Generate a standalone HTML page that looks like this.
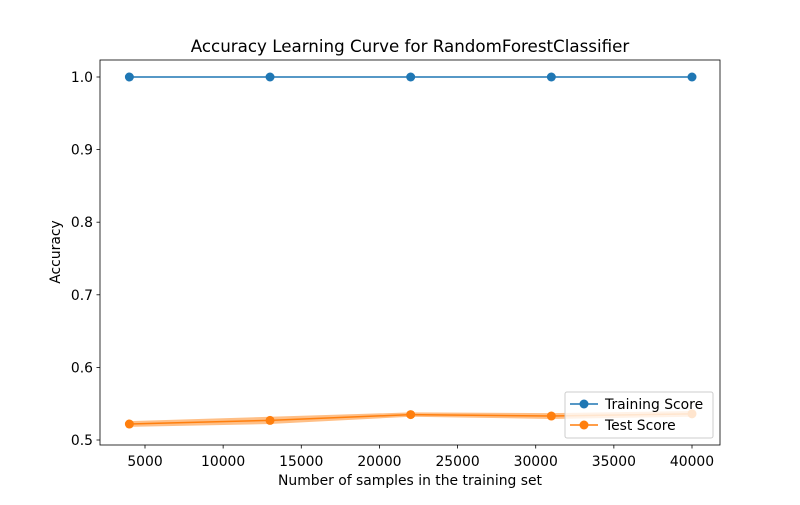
<!DOCTYPE html>
<html><head><meta charset="utf-8"><style>body{margin:0;background:#fff}svg{font-family:"DejaVu Sans","Liberation Sans",sans-serif}</style></head>
<body>
<svg id="chart" width="800" height="500">
<rect width="800" height="500" fill="#fff"/>
<text x="410" y="52" text-anchor="middle" font-size="16.7">Accuracy Learning Curve for RandomForestClassifier</text>
<g id="plot"></g>
</svg>
<script>
const sizes=[4000,13000,22000,31000,40000];
const trainMean=[1.0,1.0,1.0,1.0,1.0];
const testMean=[0.522,0.527,0.535,0.533,0.536];
const testStd=[0.004,0.005,0.003,0.004,0.004];
const xTicks=[5000,10000,15000,20000,25000,30000,35000,40000];
const yTicks=[0.5,0.6,0.7,0.8,0.9,1.0];
const L=100,R=720,T=60,B=445;
const x=v=>145+(v-5000)*(547/35000);
const y=v=>77+(1.0-v)*726;
const svg=document.getElementById('chart'),g=document.getElementById('plot');
const NS='http://www.w3.org/2000/svg';
function mk(t,a,p){const e=document.createElementNS(NS,t);for(const k in a)e.setAttribute(k,a[k]);(p||g).appendChild(e);return e;}
let pts=sizes.map((s,i)=>x(s)+','+y(testMean[i]+testStd[i])).concat(sizes.map((s,i)=>x(s)+','+y(testMean[i]-testStd[i])).reverse());
let band=mk('polygon',{points:pts.join(' '),fill:'#ff7f0e','fill-opacity':0.5});


function series(vals,col,name){
 const l=mk('polyline',{points:sizes.map((s,i)=>x(s)+','+y(vals[i])).join(' '),fill:'none',stroke:col,'stroke-width':1.5});
 
 
 sizes.forEach((s,i)=>{const c=mk('circle',{cx:x(s),cy:y(vals[i]),r:4.5,fill:col});
 
 });
}
series(trainMean,'#1f77b4','training-score');
series(testMean,'#ff7f0e','test-score');
const frame=mk('rect',{x:L,y:T,width:R-L,height:B-T,fill:'none',stroke:'#000','stroke-width':0.8});


xTicks.forEach(v=>{mk('line',{x1:x(v),x2:x(v),y1:B,y2:B+3.5,stroke:'#000','stroke-width':0.8});
 const t=mk('text',{x:x(v),y:B+21,'text-anchor':'middle','font-size':13.9});t.textContent=v;
 
 });
yTicks.forEach(v=>{mk('line',{x1:L-3.5,x2:L,y1:y(v),y2:y(v),stroke:'#000','stroke-width':0.8});
 const t=mk('text',{x:L-7,y:y(v)+5,'text-anchor':'end','font-size':13.9});t.textContent=v.toFixed(1);
 
 });
const xl=mk('text',{x:410,y:485,'text-anchor':'middle','font-size':13.9});xl.textContent='Number of samples in the training set';


const yl=mk('text',{x:60,y:252,'text-anchor':'middle','font-size':13.9,transform:'rotate(-90 60 252)'});yl.textContent='Accuracy';


const lg=mk('g',{});


mk('rect',{x:565,y:392,width:148,height:46,rx:2,fill:'#fff','fill-opacity':0.8,stroke:'#ccc'},lg);
[['Training Score','#1f77b4',404],['Test Score','#ff7f0e',425]].forEach(([n,c,yy])=>{
 mk('line',{x1:570,x2:598,y1:yy,y2:yy,stroke:c,'stroke-width':1.5},lg);
 mk('circle',{cx:584,cy:yy,r:4.5,fill:c},lg);
 const t=mk('text',{x:605,y:yy+5,'font-size':13.9},lg);t.textContent=n;
 
 });
</script>
</body></html>
